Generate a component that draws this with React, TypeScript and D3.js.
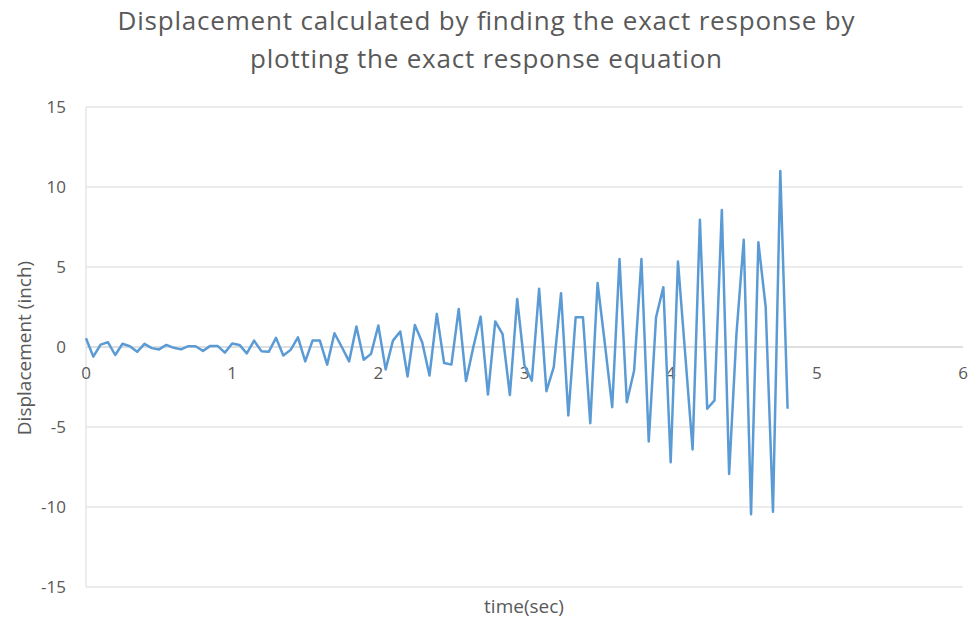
import React from "react";
import * as d3 from "d3";

const TITLE_LINES = [
  "Displacement calculated by finding the exact response by",
  "plotting the exact response equation",
];
const TITLE_WIDTHS = [737, 472];
const X_LABEL = "time(sec)";
const Y_LABEL = "Displacement (inch)";

const TIME = [
  0, 0.05, 0.1, 0.15, 0.2, 0.25, 0.3, 0.35, 0.4, 0.45,
  0.5, 0.55, 0.6, 0.65, 0.7, 0.75, 0.8, 0.85, 0.9, 0.95,
  1, 1.05, 1.1, 1.15, 1.2, 1.25, 1.3, 1.35, 1.4, 1.45,
  1.5, 1.55, 1.6, 1.65, 1.7, 1.75, 1.8, 1.85, 1.9, 1.95,
  2, 2.05, 2.1, 2.15, 2.2, 2.25, 2.3, 2.35, 2.4, 2.45,
  2.5, 2.55, 2.6, 2.65, 2.7, 2.75, 2.8, 2.85, 2.9, 2.95,
  3, 3.05, 3.1, 3.15, 3.2, 3.25, 3.3, 3.35, 3.4, 3.45,
  3.5, 3.55, 3.6, 3.65, 3.7, 3.75, 3.8, 3.85, 3.9, 3.95,
  4, 4.05, 4.1, 4.15, 4.2, 4.25, 4.3, 4.35, 4.4, 4.45,
  4.5, 4.55, 4.6, 4.65, 4.7, 4.75, 4.8,
];

const DISPLACEMENT = [
  0.55, -0.6, 0.15, 0.3, -0.5, 0.2, 0.05, -0.3, 0.2, -0.07,
  -0.15, 0.13, -0.05, -0.15, 0.05, 0.05, -0.25, 0.07, 0.07, -0.35,
  0.22, 0.13, -0.4, 0.4, -0.26, -0.3, 0.57, -0.53, -0.18, 0.6,
  -0.9, 0.4, 0.4, -1.1, 0.86, 0.0, -0.9, 1.28, -0.8, -0.43,
  1.34, -1.4, 0.4, 0.97, -1.84, 1.38, 0.3, -1.78, 2.07, -1.0,
  -1.1, 2.38, -2.13, 0.0, 1.9, -2.97, 1.6, 0.8, -3.0, 3.0,
  -1.16, -2.1, 3.64, -2.76, -1.26, 3.36, -4.28, 1.86, 1.86, -4.76,
  4.0, 0.2, -3.76, 5.5, -3.45, -1.47, 5.5, -5.9, 1.86, 3.74,
  -7.2, 5.34, -0.5, -6.4, 7.95, -3.86, -3.34, 8.57, -7.93, 0.8,
  6.7, -10.45, 6.55, 2.5, -10.3, 11.0, -3.86,
];

const X_TICKS = [0, 1, 2, 3, 4, 5, 6];
const Y_TICKS = [-15, -10, -5, 0, 5, 10, 15];

const W = 971;
const H = 620;
const FONT = "'Open Sans', 'Noto Sans', sans-serif";
const TEXT_COLOR = "#595959";

export default function App() {
  const x = d3.scaleLinear().domain([0, 6]).range([86, 963]);
  const y = d3.scaleLinear().domain([-15, 15]).range([587, 107]);
  const points = TIME.map((t, i) => [t, DISPLACEMENT[i]] as [number, number]);
  const line = d3
    .line<[number, number]>()
    .x((d) => x(d[0]))
    .y((d) => y(d[1]));

  return (
    <svg
      width={W}
      height={H}
      style={{ position: "absolute", left: 0, top: 0, background: "#fff" }}
      fontFamily={FONT}
    >
      <rect x={0} y={0} width={W} height={H} fill="#fff" />
      {TITLE_LINES.map((t, i) => (
        <text
          key={i}
          x={486}
          y={30 + i * 38}
          textAnchor="middle"
          fontSize={26}
          textLength={TITLE_WIDTHS[i]}
          lengthAdjust="spacing"
          fill={TEXT_COLOR}
        >
          {t}
        </text>
      ))}
      {Y_TICKS.map((v) => (
        <line
          key={"g" + v}
          x1={x(0)}
          x2={x(6)}
          y1={y(v)}
          y2={y(v)}
          stroke={v === 0 ? "#bfbfbf" : "#d9d9d9"}
          strokeWidth={1}
        />
      ))}
      <line x1={x(0)} x2={x(0)} y1={y(15)} y2={y(-15)} stroke="#d9d9d9" strokeWidth={1} />
      {Y_TICKS.map((v) => (
        <text
          key={"yl" + v}
          x={66}
          y={y(v)}
          dy="0.36em"
          textAnchor="end"
          fontSize={17}
          fill={TEXT_COLOR}
        >
          {v}
        </text>
      ))}
      {X_TICKS.map((v) => (
        <text
          key={"xl" + v}
          x={x(v)}
          y={379}
          textAnchor="middle"
          fontSize={17}
          fill={TEXT_COLOR}
        >
          {v}
        </text>
      ))}
      <path
        d={line(points) || ""}
        fill="none"
        stroke="#5B9BD5"
        strokeWidth={2.5}
        strokeLinejoin="round"
      />
      <text x={524} y={613} textAnchor="middle" fontSize={19} fill={TEXT_COLOR}>
        {X_LABEL}
      </text>
      <text
        transform={`translate(31, 348) rotate(-90)`}
        textAnchor="middle"
        fontSize={19}
        fill={TEXT_COLOR}
      >
        {Y_LABEL}
      </text>
    </svg>
  );
}
